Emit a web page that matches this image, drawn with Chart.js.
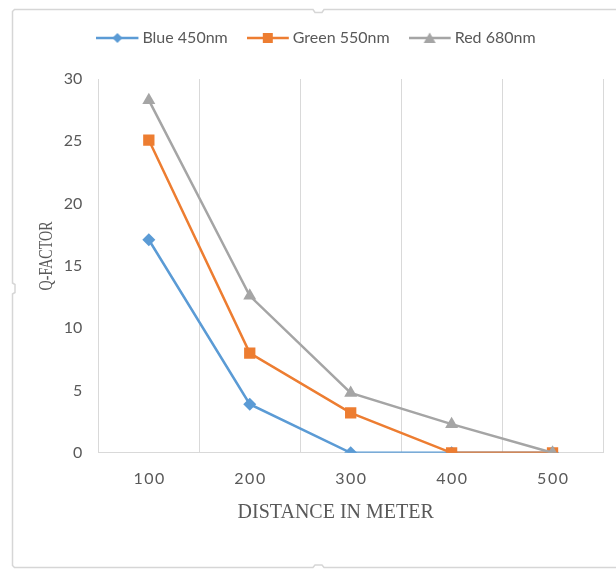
<!DOCTYPE html>
<html>
<head>
<meta charset="utf-8">
<title>Q-Factor vs Distance</title>
<script src="https://cdn.jsdelivr.net/npm/chart.js@4/dist/chart.umd.min.js"></script>
<style>
  html, body { margin: 0; padding: 0; background: #ffffff; }
  #wrap { position: relative; width: 616px; height: 572px; }
</style>
</head>
<body>
<div id="wrap"><canvas id="chart"></canvas></div>
<script>
// Distances along the link (metres)
const categories = ['100', '200', '300', '400', '500'];

// Q-factor per wavelength
const blue450 = [17.1, 3.9, 0, 0, 0];
const green550 = [25.1, 8.0, 3.2, 0, 0];
const red680 = [28.3, 12.6, 4.8, 2.3, 0];

const seriesNames = ['Blue 450nm', 'Green 550nm', 'Red 680nm'];
const yTicks = { min: 0, max: 30, step: 5 };

const TEXT = '#595959';
const GRID = '#D9D9D9';
const BLUE = '#5B9BD5';
const ORANGE = '#ED7D31';
const GREY = '#A5A5A5';
const CLEAR = 'rgba(0,0,0,0)';

// Small line + marker swatch used as the legend symbol
function swatch(color, shape) {
  const c = document.createElement('canvas');
  c.width = 44; c.height = 16;
  const g = c.getContext('2d');
  g.strokeStyle = color; g.fillStyle = color; g.lineWidth = 2.5;
  g.beginPath(); g.moveTo(0, 8); g.lineTo(42, 8); g.stroke();
  const cx = 21, cy = 8;
  g.beginPath();
  if (shape === 'diamond') {
    g.moveTo(cx, cy - 5); g.lineTo(cx + 5, cy); g.lineTo(cx, cy + 5); g.lineTo(cx - 5, cy);
  } else if (shape === 'square') {
    g.rect(cx - 5, cy - 5, 10, 10);
  } else {
    g.moveTo(cx, cy - 5.5); g.lineTo(cx + 6, cy + 5); g.lineTo(cx - 6, cy + 5);
  }
  g.closePath(); g.fill();
  return c;
}
const legendSymbols = [swatch(BLUE, 'diamond'), swatch(ORANGE, 'square'), swatch(GREY, 'triangle')];

// Light frame around the whole chart, with the small side handles
const framePlugin = {
  id: 'frame',
  beforeDraw(chart) {
    const ctx = chart.ctx;
    ctx.save();
    ctx.fillStyle = '#ffffff';
    ctx.fillRect(0, 0, chart.width, chart.height);
    ctx.strokeStyle = '#D6D6D6';
    ctx.lineWidth = 1.5;
    ctx.beginPath();
    ctx.moveTo(640, 9.5);
    ctx.lineTo(324, 9.5); ctx.lineTo(322, 12.5); ctx.lineTo(315, 12.5); ctx.lineTo(313, 9.5);
    ctx.lineTo(14.5, 9.5); ctx.lineTo(12.5, 11.5);
    ctx.lineTo(12.5, 283); ctx.lineTo(15, 284.5); ctx.lineTo(15, 292.5); ctx.lineTo(12.5, 294);
    ctx.lineTo(12.5, 565.5); ctx.lineTo(14.5, 567.5);
    ctx.lineTo(313, 567.5); ctx.lineTo(315, 565); ctx.lineTo(322, 565); ctx.lineTo(324, 567.5);
    ctx.lineTo(640, 567.5);
    ctx.stroke();
    ctx.restore();

    // Nudge the axis titles, tick spacing and legend the way this sheet lays them out
    if (!chart.$patched) {
      chart.$patched = true;
      const ys = chart.scales.y;
      const yTitle = ys.drawTitle.bind(ys);
      ys.drawTitle = function () {
        const c = this.ctx;
        const cy = (this.top + this.bottom) / 2;
        c.save();
        c.translate(0, cy - 10);
        c.scale(1, 0.74);
        c.translate(0, -cy);
        yTitle();
        c.restore();
      };
      const xs = chart.scales.x;
      const xTitle = xs.drawTitle.bind(xs);
      xs.drawTitle = function () {
        const c = this.ctx;
        c.save();
        c.translate(-15, 0);
        xTitle();
        c.restore();
      };
      const xLabels = xs.drawLabels.bind(xs);
      xs.drawLabels = function (area) {
        const c = this.ctx;
        c.save();
        c.letterSpacing = '1.5px';
        c.translate(0.75, 0);
        xLabels(area);
        c.restore();
      };
      const lg = chart.legend;
      const lgDraw = lg.draw.bind(lg);
      lg.draw = function (area) {
        const c = this.ctx;
        c.save();
        c.translate(0, -23);
        lgDraw(area);
        c.restore();
      };
    }
  }
};

const lineStyle = { borderWidth: 2.5, tension: 0, pointBorderWidth: 0 };

new Chart(document.getElementById('chart'), {
  type: 'line',
  data: {
    labels: categories,
    datasets: [
      Object.assign({
        label: seriesNames[0], data: blue450, order: 3,
        borderColor: BLUE, backgroundColor: BLUE,
        pointStyle: 'rectRot', pointRadius: 6.5, pointHoverRadius: 6.5
      }, lineStyle),
      Object.assign({
        label: seriesNames[1], data: green550, order: 2,
        borderColor: ORANGE, backgroundColor: ORANGE,
        pointStyle: 'rect', pointRadius: 8, pointHoverRadius: 8
      }, lineStyle),
      Object.assign({
        label: seriesNames[2], data: red680, order: 1,
        borderColor: GREY, backgroundColor: GREY,
        pointStyle: 'triangle', pointRadius: 7.5, pointHoverRadius: 7.5
      }, lineStyle)
    ]
  },
  options: {
    responsive: true,
    maintainAspectRatio: false,
    animation: false,
    layout: { padding: { left: 35, right: 13, top: 28, bottom: 47 } },
    plugins: {
      tooltip: { enabled: false },
      legend: {
        position: 'top',
        labels: {
          usePointStyle: true,
          pointStyleWidth: 32,
          padding: 25,
          color: TEXT,
          font: { family: 'Lato', size: 16 },
          generateLabels(chart) {
            const items = Chart.defaults.plugins.legend.labels.generateLabels(chart);
            items.forEach(it => { it.pointStyle = legendSymbols[it.datasetIndex]; });
            return items;
          },
          sort: (a, b) => a.datasetIndex - b.datasetIndex
        }
      }
    },
    scales: {
      x: {
        type: 'category',
        offset: true,
        grid: { offset: true, color: GRID, lineWidth: 1, drawTicks: true, tickLength: 16, tickColor: CLEAR },
        border: { display: true, color: GRID, width: 1 },
        ticks: { color: TEXT, padding: 0, font: { family: 'Lato', size: 16 } },
        title: {
          display: true, text: 'DISTANCE IN METER', color: TEXT,
          font: { family: 'Liberation Serif', size: 20 },
          padding: { top: 13, bottom: 0 }
        }
      },
      y: {
        min: yTicks.min, max: yTicks.max,
        grid: { display: true, drawOnChartArea: false, drawTicks: true, tickLength: 16, tickColor: CLEAR },
        border: { display: true, color: GRID, width: 1 },
        ticks: { stepSize: yTicks.step, color: TEXT, padding: 0, font: { family: 'Lato', size: 16 } },
        title: {
          display: true, text: 'Q-FACTOR', color: TEXT,
          font: { family: 'Liberation Serif', size: 19 },
          padding: { top: 1, bottom: 5 }
        }
      }
    }
  },
  plugins: [framePlugin]
});
</script>
</body>
</html>
